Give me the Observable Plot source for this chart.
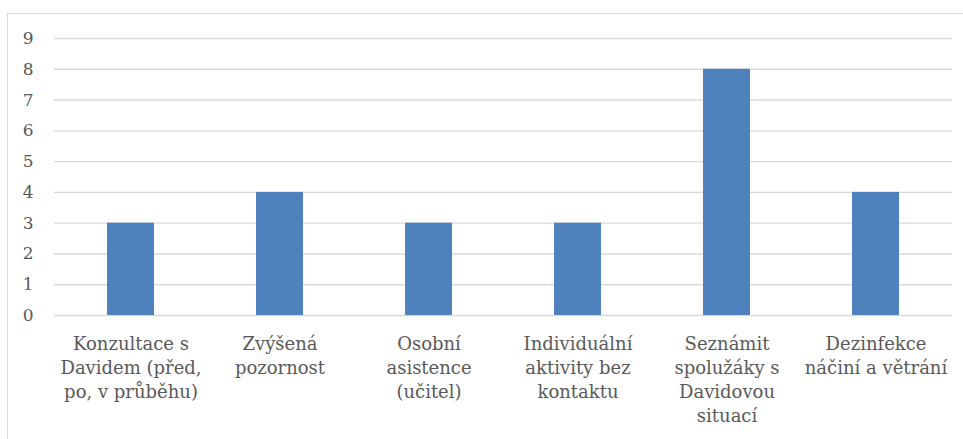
<!DOCTYPE html>
<html><head><meta charset="utf-8">
<script src="https://cdn.jsdelivr.net/npm/d3@7"></script>
<script src="https://cdn.jsdelivr.net/npm/@observablehq/plot@0.6"></script>
<style>
body{margin:0;background:#fff;}
#wrap{position:relative;width:963px;height:439px;overflow:hidden;}
#frame{position:absolute;left:7px;top:13px;width:1000px;height:500px;border:1px solid #d9d9d9;box-sizing:border-box;}
#chart{position:absolute;left:0;top:0;}
</style></head>
<body><div id="wrap"><div id="frame"></div><div id="chart"></div></div>
<script>
const categories = [
  "Konzultace s\nDavidem (před,\npo, v průběhu)",
  "Zvýšená\npozornost",
  "Osobní\nasistence\n(učitel)",
  "Individuální\naktivity bez\nkontaktu",
  "Seznámit\nspolužáky s\nDavidovou\nsituací",
  "Dezinfekce\nnáčiní a větrání"
];
const values = [3, 4, 3, 3, 8, 4];
const yTicks = [0,1,2,3,4,5,6,7,8,9];
const data = categories.map((c,i)=>({cat:c, v:values[i]}));

const chart = Plot.plot({
  width: 963, height: 439,
  marginLeft: 54, marginRight: 11, marginTop: 38, marginBottom: 124,
  style: {fontFamily: "'DejaVu Serif', serif", fontSize: "15px", color: "#595959", background: "transparent"},
  x: {domain: categories, paddingInner: 0.687, paddingOuter: 0.3435, align: 0.5},
  y: {domain: [0, 9]},
  marks: [
    Plot.gridY(yTicks, {stroke: "#d9d9d9", strokeOpacity: 1, strokeWidth: 1.4}),
    Plot.barY(data, {x: "cat", y: "v", fill: "#4F81BD"}),
    Plot.axisY(yTicks, {tickSize: 0, tickPadding: 21, label: null, fontSize: 17, fill: "#595959"}),
    Plot.axisX({tickSize: 0, tickPadding: 17, label: null, lineHeight: 1.333, fontSize: 18, fill: "#595959", tickFormat: d => d})
  ]
});
document.getElementById("chart").appendChild(chart);
</script></body></html>
